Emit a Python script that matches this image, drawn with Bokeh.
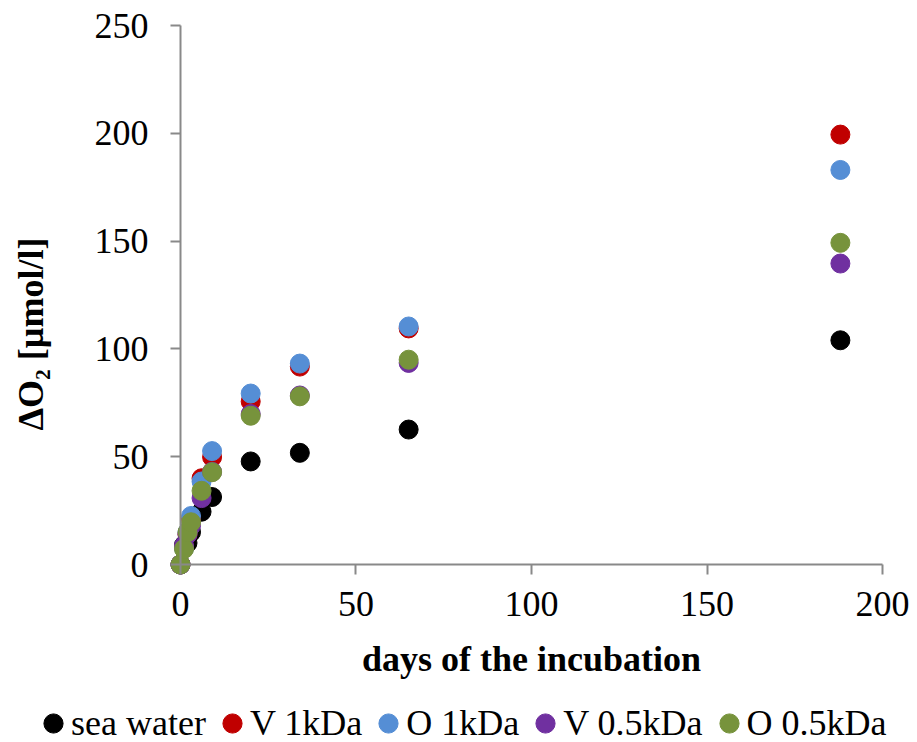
import math
from bokeh.plotting import figure
from bokeh.models import Range1d, FixedTicker, Legend, LegendItem, Label
from bokeh.embed import file_html
from bokeh.resources import INLINE

# incubation time points (days)
days = [0, 1, 2, 3, 6, 9, 20, 34, 65, 188]

# oxygen consumption, µmol/l
sea_water = [0, 9, 10, 15, 24.5, 31.3, 47.8, 51.8, 62.6, 104]
v_1kda = [0, 8, 14, 21, 40, 49.8, 75.6, 91.8, 109.5, 199.4]
o_1kda = [0, 7.5, 15, 22.5, 38.5, 52.6, 79.3, 93.2, 110.4, 183]
v_05kda = [0, 8.8, 14, 18, 30.8, 43, 69.8, 78.4, 93.5, 139.6]
o_05kda = [0, 7.2, 15, 19.6, 34.2, 42.8, 69, 78, 95, 149.2]

series = [
    ("sea water", sea_water, "#000000"),
    ("V 1kDa", v_1kda, "#C00000"),
    ("O 1kDa", o_1kda, "#558ED5"),
    ("V 0.5kDa", v_05kda, "#7030A0"),
    ("O 0.5kDa", o_05kda, "#77933C"),
]

FONT = "Liberation Serif"
AXIS_GREY = "#898989"

# the plotting area fills the whole canvas; axes are pinned at zero and
# bounded to the data span, so labels and legend sit in the margins
p = figure(frame_width=917, frame_height=742, output_backend="svg",
           toolbar_location=None,
           x_range=Range1d(-51.28, 209.97), y_range=Range1d(-82.56, 261.6),
           min_border=0)
p.outline_line_color = None
p.xgrid.grid_line_color = None
p.ygrid.grid_line_color = None

items = []
for name, vals, color in series:
    r = p.ellipse(days, vals, width=19, height=19, width_units="screen",
                  height_units="screen", fill_color=color, line_color=color)
    items.append(LegendItem(label=name, renderers=[r]))

p.xaxis.bounds = (0, 200)
p.yaxis.bounds = (0, 250)
for ax in (p.xaxis[0], p.yaxis[0]):
    ax.fixed_location = 0
    ax.axis_line_color = AXIS_GREY
    ax.axis_line_width = 2
    ax.major_tick_line_color = AXIS_GREY
    ax.major_tick_line_width = 2
    ax.major_tick_out = 10
    ax.major_tick_in = 0
    ax.minor_tick_line_color = None
    ax.major_label_text_font = FONT
    ax.major_label_text_font_size = "36px"
    ax.major_label_text_color = "#000000"

p.xaxis.ticker = FixedTicker(ticks=[0, 50, 100, 150, 200])
p.yaxis.ticker = FixedTicker(ticks=[0, 50, 100, 150, 200, 250])
p.xaxis.major_label_standoff = 17
p.yaxis.major_label_standoff = 22

title_style = dict(text_font=FONT, text_font_size="36px",
                   text_font_style="bold", text_color="#000000",
                   text_align="center", text_baseline="middle")
p.add_layout(Label(x=100, y=-43.6, text="days of the incubation",
                   **title_style))
p.add_layout(Label(x=-42.45, y=106.9, text="ΔO₂ [µmol/l]",
                   angle=math.pi / 2, **title_style))

legend = Legend(items=items, orientation="horizontal", location=(41, -5),
                label_text_font=FONT, label_text_font_size="36px",
                label_text_color="#000000",
                glyph_width=24, glyph_height=48, label_height=48,
                label_standoff=6, spacing=14, padding=0, margin=0,
                border_line_color=None, background_fill_alpha=0)
p.add_layout(legend, "center")

open("out.html", "w").write(file_html(p, INLINE))
